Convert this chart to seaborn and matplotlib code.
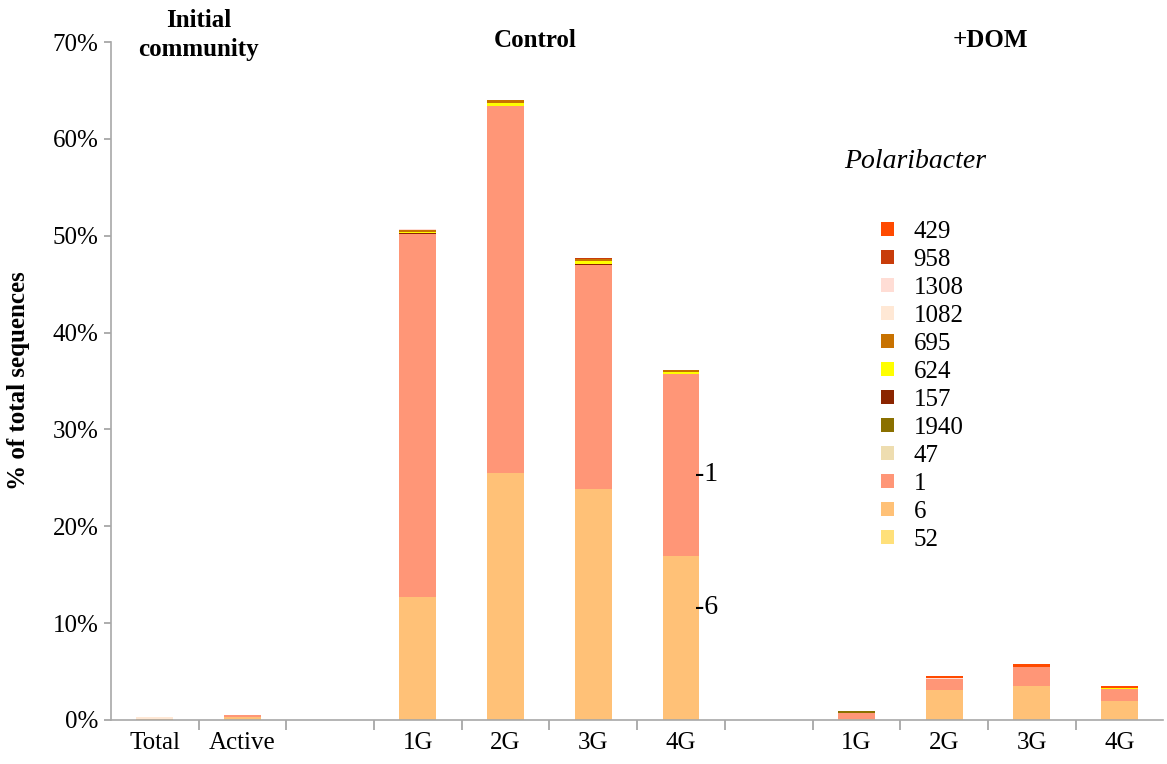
import seaborn as sns
import pandas as pd
from matplotlib import pyplot as plt

# slots along the x axis (two empty spacer slots between groups)
slots = ["Total", "Active", "gap1", "C1G", "C2G", "C3G", "C4G",
         "gap2", "D1G", "D2G", "D3G", "D4G"]
slot_labels = ["Total", "Active", "", "1G", "2G", "3G", "4G",
               "", "1G", "2G", "3G", "4G"]

# % of total sequences per Polaribacter OTU (bottom -> top of the stack)
otu_52 = [0.05, 0, 0, 0, 0, 0, 0, 0, 0, 0, 0, 0]
otu_6 = [0.07, 0.35, 0, 12.7, 25.5, 23.9, 16.9, 0, 0.1, 3.05, 3.47, 2.0]
otu_1 = [0, 0.12, 0, 37.45, 37.85, 23.1, 18.8, 0, 0.6, 1.2, 2.0, 1.25]
otu_47 = [0, 0, 0, 0, 0, 0, 0, 0, 0, 0, 0, 0]
otu_1940 = [0, 0, 0, 0, 0, 0, 0, 0, 0.2, 0, 0, 0]
otu_157 = [0, 0, 0, 0.12, 0, 0.05, 0.05, 0, 0, 0, 0, 0]
otu_624 = [0, 0, 0, 0.15, 0.4, 0.35, 0.15, 0, 0, 0, 0, 0.05]
otu_695 = [0, 0, 0, 0.12, 0.25, 0.15, 0.2, 0, 0, 0, 0, 0.05]
otu_1082 = [0.18, 0, 0, 0, 0, 0, 0, 0, 0, 0, 0, 0]
otu_1308 = [0, 0, 0, 0.15, 0, 0, 0, 0, 0, 0.08, 0, 0]
otu_958 = [0, 0, 0, 0, 0, 0.2, 0, 0, 0, 0.05, 0, 0]
otu_429 = [0, 0, 0, 0, 0, 0, 0, 0, 0, 0.2, 0.28, 0.2]

otu_names = ["52", "6", "1", "47", "1940", "157", "624", "695",
             "1082", "1308", "958", "429"]
otu_values = [otu_52, otu_6, otu_1, otu_47, otu_1940, otu_157, otu_624,
              otu_695, otu_1082, otu_1308, otu_958, otu_429]
otu_colors = ["#FFE07A", "#FFC177", "#FF9677", "#EEDDB0", "#8A7000",
              "#8B2500", "#FFFF00", "#C87200", "#FFE8D5", "#FFDDD5",
              "#C83C0A", "#FF4A00"]

# long table + cumulative heights for stacking
df = pd.concat([pd.DataFrame({"slot": slots, "otu": n, "pct": v})
                for n, v in zip(otu_names, otu_values)], ignore_index=True)
df["cum"] = df.groupby("slot")["pct"].cumsum()

sns.set_style("white")
plt.rcParams["font.family"] = ["Liberation Serif", "DejaVu Serif"]
plt.rcParams["text.color"] = "black"
plt.rcParams["xtick.color"] = "black"
plt.rcParams["ytick.color"] = "black"
plt.rcParams["axes.labelcolor"] = "black"

fig = plt.figure(figsize=(11.67, 7.64), dpi=100)
ax = fig.add_axes([0.095, 0.0576, 0.902, 0.8874])

# draw top of stack first so lower layers paint over it
for name, color in reversed(list(zip(otu_names, otu_colors))):
    sub = df[df["otu"] == name]
    sns.barplot(data=sub, x="slot", y="cum", order=slots, color=color,
                saturation=1, width=0.42, linewidth=0, errorbar=None,
                label=name, ax=ax)

ax.set_xlim(-0.5, 11.5)
ax.set_ylim(0, 70)
ax.set_yticks(range(0, 71, 10))
ax.set_yticklabels([f"{v}%" for v in range(0, 71, 10)], fontsize=18)
ax.set_xticks([i + 0.5 for i in range(11)])
ax.set_xticklabels([])
ax.set_xticks(range(12), minor=True)
ax.set_xticklabels(slot_labels, minor=True, fontsize=18)
ax.tick_params(axis="x", which="major", direction="out", length=7,
               color="#A0A0A0", width=1.2, bottom=True)
ax.tick_params(axis="x", which="minor", length=0, pad=9)
ax.tick_params(axis="y", direction="out", length=5, color="#A0A0A0",
               width=1.2, left=True, pad=4)
for s in ["top", "right"]:
    ax.spines[s].set_visible(False)
for s in ["left", "bottom"]:
    ax.spines[s].set_color("#A8A8A8")
    ax.spines[s].set_linewidth(1.2)
ax.set_xlabel("")
ax.set_ylabel("% of total sequences", fontsize=18, fontweight="bold",
              labelpad=16)

# group headers
trans = ax.get_xaxis_transform()
ax.text(0.5, 1.01, "Initial\ncommunity", transform=trans, ha="center",
        va="center", fontsize=18, fontweight="bold", linespacing=1.35)
ax.text(4.34, 1.002, "Control", transform=trans, ha="center", va="center",
        fontsize=18, fontweight="bold")
ax.text(9.53, 1.002, "+DOM", transform=trans, ha="center", va="center",
        fontsize=18, fontweight="bold")

# OTU tags on the 4G control bar
ax.text(6.16, 25.3, "-1", ha="left", va="center", fontsize=20)
ax.text(6.16, 11.6, "-6", ha="left", va="center", fontsize=20)

fig.text(0.784, 0.788, "Polaribacter", ha="center", va="center",
         fontsize=20, style="italic")
ax.legend(loc="upper left", bbox_to_anchor=(0.744, 0.727),
          bbox_transform=fig.transFigure, frameon=False, fontsize=18,
          handlelength=0.52, handleheight=0.52, handletextpad=0.8,
          labelspacing=0.24, borderpad=0)

plt.savefig("out.png", dpi=100)
